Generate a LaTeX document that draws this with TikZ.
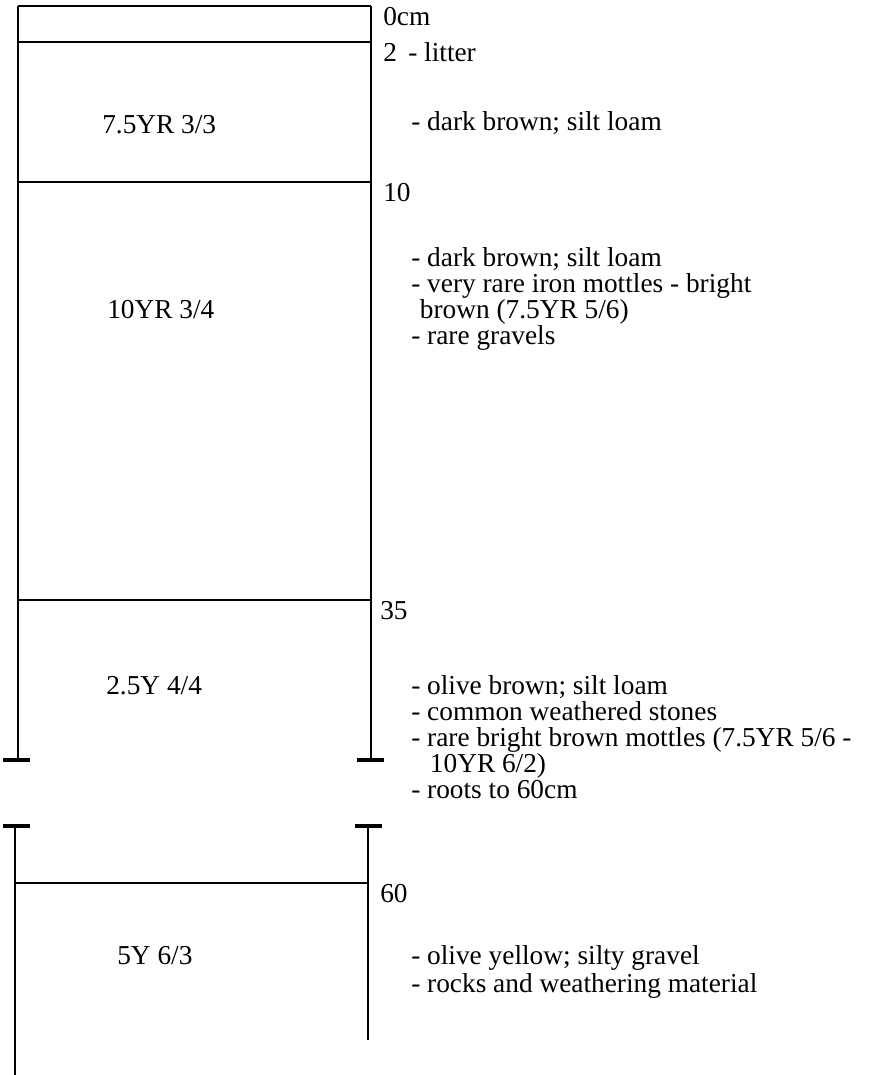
\documentclass[tikz,border=0pt]{standalone}
\usepackage{fontspec}
\setmainfont{Liberation Serif}
\begin{document}
\begin{tikzpicture}[x=0.75pt,y=-0.75pt,
  wall/.style={line width=2.2pt},
  brk/.style={line width=3.5pt},
  lab/.style={anchor=base west,inner sep=0pt,
    font=\fontsize{20.5}{21}\selectfont},
  desc/.style={lab,align=left,font=\fontsize{20.5}{19.5}\selectfont}]
  \useasboundingbox (0,0) rectangle (883,1075);
  % upper part of the profile
  \draw[wall] (18,6) -- (18,760);
  \draw[wall] (371,6) -- (371,760);
  \foreach \y in {6,42,182,600}{
    \draw[wall] (18,\y) -- (371,\y);
  }
  \draw[brk] (3,760) -- (30,760);
  \draw[brk] (357,760) -- (384,760);
  % lower part of the profile
  \draw[brk] (3,826) -- (30,826);
  \draw[brk] (355,826) -- (382,826);
  \draw[wall] (15,826) -- (15,1075);
  \draw[wall] (368,826) -- (368,1040);
  \draw[wall] (15,883) -- (368,883);
  % depths
  \node[lab] (d0)  at (383,25)  {0cm};
  \node[lab] (d2)  at (383,61)  {2};
  \node[lab] (d10) at (383,201) {10};
  \node[lab] (d35) at (380,619) {35};
  \node[lab] (d60) at (380,902) {60};
  % munsell colours
  \node[lab] (c1) at (102,133) {7.5YR 3/3};
  \node[lab] (c2) at (107,318) {10YR 3/4};
  \node[lab] (c3) at (106,694) {2.5Y 4/4};
  \node[lab] (c4) at (117,964) {5Y 6/3};
  % horizon notes (anchored on the last line)
  \node[lab]  (t0) at (408,61)  {- litter};
  \node[lab]  (t1) at (411,130) {- dark brown; silt loam};
  \node[desc] (t2) at (411,344)
    {- dark brown; silt loam\\
    - very rare iron mottles - bright\\
    \hspace{6.5pt}brown (7.5YR 5/6)\\
    - rare gravels};
  \node[desc] (t3) at (411,798)
    {- olive brown; silt loam\\
    - common weathered stones\\
    - rare bright brown mottles (7.5YR 5/6 -\\
    \hspace{14pt}10YR 6/2)\\
    - roots to 60cm};
  \node[desc,font=\fontsize{20.5}{20.5}\selectfont] (t4) at (411,992)
    {- olive yellow; silty gravel\\
    - rocks and weathering material};
\end{tikzpicture}
\end{document}
